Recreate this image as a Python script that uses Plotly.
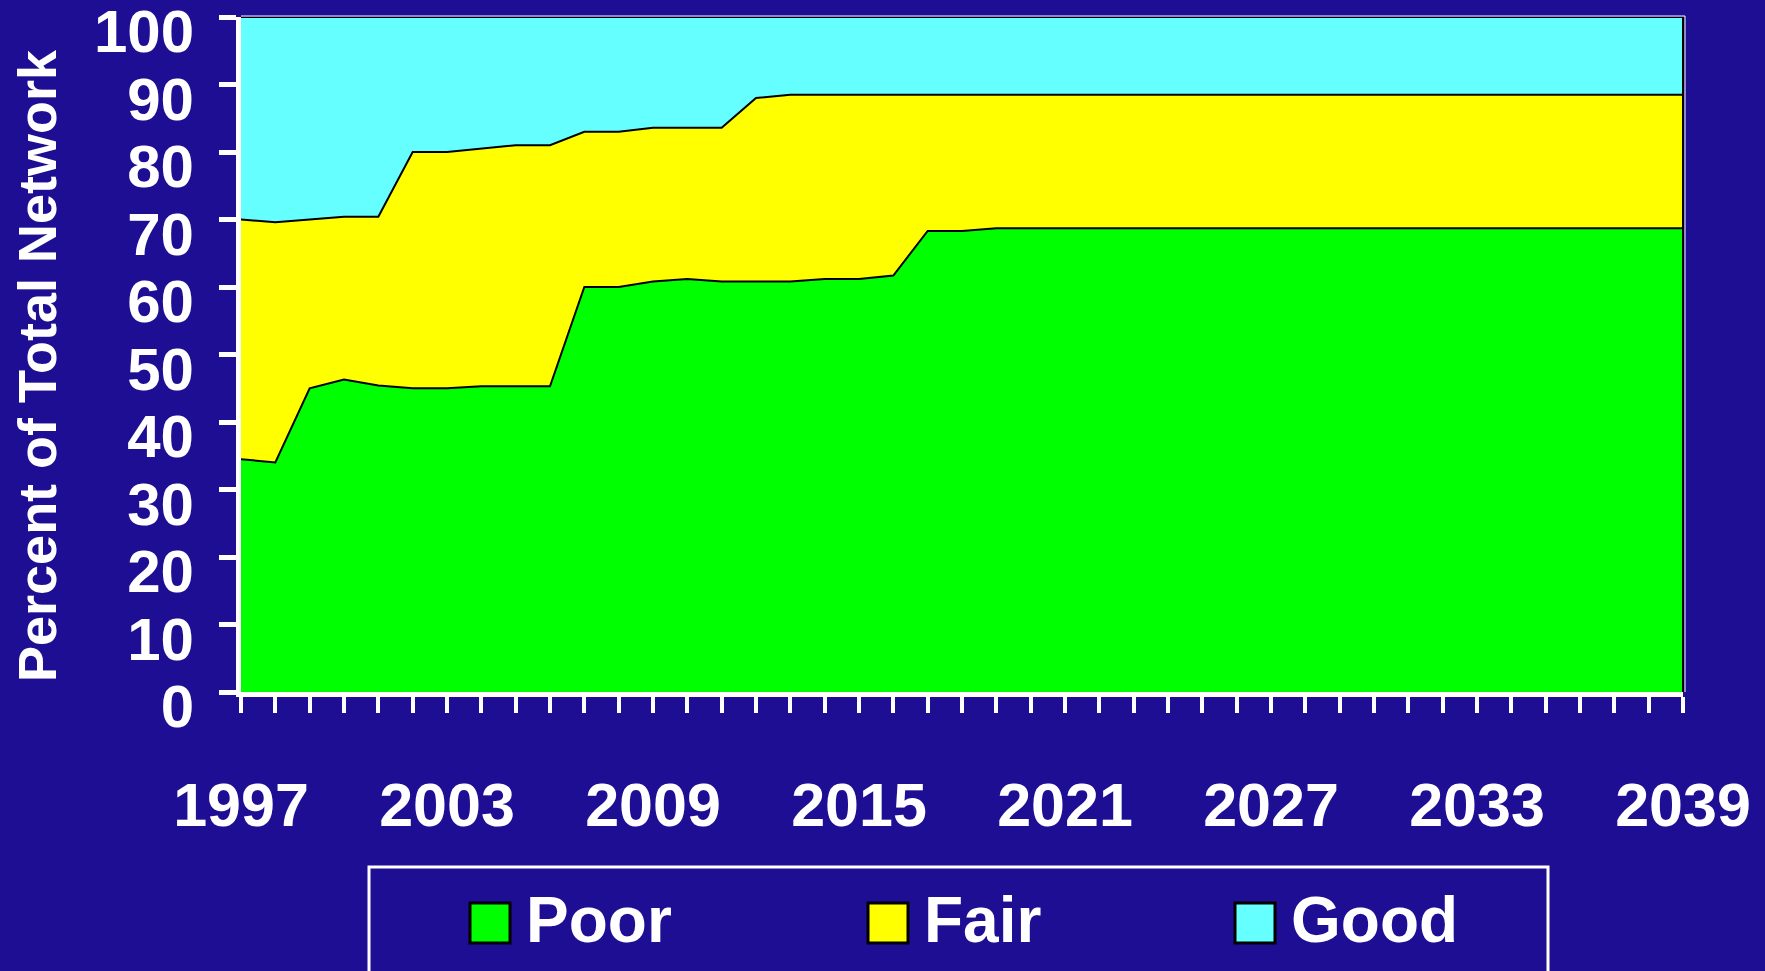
import plotly.graph_objects as go

# network condition, percent of total, 1997-2039
years = list(range(1997, 2040))

poor = [34.5, 34.0, 45.0, 46.3, 45.4, 45.0, 45.0, 45.3, 45.3, 45.3,
        60.0, 60.0, 60.8, 61.2, 60.8, 60.8, 60.8, 61.2, 61.2, 61.7,
        68.3, 68.3, 68.7, 68.7, 68.7, 68.7, 68.7, 68.7, 68.7, 68.7,
        68.7, 68.7, 68.7, 68.7, 68.7, 68.7, 68.7, 68.7, 68.7, 68.7,
        68.7, 68.7, 68.7]
fair = [35.5, 35.6, 25.0, 24.1, 25.0, 35.0, 35.0, 35.2, 35.7, 35.7,
        23.0, 23.0, 22.8, 22.4, 22.8, 27.2, 27.7, 27.3, 27.3, 26.8,
        20.2, 20.2, 19.8, 19.8, 19.8, 19.8, 19.8, 19.8, 19.8, 19.8,
        19.8, 19.8, 19.8, 19.8, 19.8, 19.8, 19.8, 19.8, 19.8, 19.8,
        19.8, 19.8, 19.8]
good = [30.0, 30.4, 30.0, 29.6, 29.6, 20.0, 20.0, 19.5, 19.0, 19.0,
        17.0, 17.0, 16.4, 16.4, 16.4, 12.0, 11.5, 11.5, 11.5, 11.5,
        11.5, 11.5, 11.5, 11.5, 11.5, 11.5, 11.5, 11.5, 11.5, 11.5,
        11.5, 11.5, 11.5, 11.5, 11.5, 11.5, 11.5, 11.5, 11.5, 11.5,
        11.5, 11.5, 11.5]

series_names = ["Poor", "Fair", "Good"]
x_tick_years = [1997, 2003, 2009, 2015, 2021, 2027, 2033, 2039]
y_ticks = [0, 10, 20, 30, 40, 50, 60, 70, 80, 90, 100]
y_title = "Percent of Total Network"

BG = "#1e0e94"
COLORS = ["#00ff00", "#ffff00", "#66ffff"]
FONT = "Liberation Sans, Arial, sans-serif"

W, H = 1765, 971
L, R, T, B = 241, 1683, 17, 692


def px(x):
    return (x - L) / (R - L)


def py(y):
    return (B - y) / (B - T)


fig = go.Figure()
for name, vals, col in zip(series_names, [poor, fair, good], COLORS):
    fig.add_trace(go.Scatter(x=years, y=vals, name=name, mode="lines",
                             stackgroup="one", fillcolor=col,
                             line=dict(color="black", width=2),
                             showlegend=False))

shapes = [
    # thin white frame on top / right, black edge of the areas on the right
    dict(type="line", xref="paper", yref="paper", x0=0, x1=px(R + 2),
         y0=py(T - 1), y1=py(T - 1), line=dict(color="white", width=1)),
    dict(type="line", xref="paper", yref="paper", x0=px(R + 2), x1=px(R + 2),
         y0=0, y1=py(T - 1), line=dict(color="white", width=1)),
    dict(type="line", xref="paper", yref="paper", x0=1, x1=1, y0=0, y1=1,
         line=dict(color="black", width=2)),
    # hand-made legend box (big square swatches like the original)
    dict(type="rect", xref="paper", yref="paper",
         x0=px(369), x1=px(1548), y0=py(867), y1=py(995),
         line=dict(color="white", width=3), fillcolor=BG),
]

# y axis title placed by hand so it sits where the original has it
annotations = [dict(text=y_title, xref="paper", yref="paper",
                    x=px(37), y=py(366), xanchor="center", yanchor="middle",
                    textangle=-90, showarrow=False,
                    font=dict(family=FONT, size=54, color="white",
                              weight="bold"))]
for name, col, sx in zip(series_names, COLORS, [470, 868, 1235]):
    shapes.append(dict(type="rect", xref="paper", yref="paper",
                       x0=px(sx), x1=px(sx + 40), y0=py(943), y1=py(903),
                       line=dict(color="black", width=3), fillcolor=col))
    annotations.append(dict(text=name, xref="paper", yref="paper",
                            x=px(sx + 54), y=py(920), xanchor="left",
                            yanchor="middle", showarrow=False,
                            font=dict(family=FONT, size=64, color="white",
                                      weight="bold")))

fig.update_layout(
    width=W, height=H,
    template="none",
    paper_bgcolor=BG, plot_bgcolor=BG,
    margin=dict(l=L, r=W - R, t=T, b=H - B),
    shapes=shapes, annotations=annotations,
    showlegend=False,
)

fig.update_xaxes(range=[1997, 2039], tickmode="array",
                 tickvals=x_tick_years, ticktext=[str(v) for v in x_tick_years],
                 ticks="outside", ticklen=16, tickwidth=4, tickcolor="white",
                 minor=dict(dtick=1, ticks="outside", ticklen=16, tickwidth=4,
                            tickcolor="white", showgrid=False),
                 showline=True, linecolor="white", linewidth=5,
                 showgrid=False, zeroline=False, automargin=False,
                 ticklabelstandoff=40, ticklabeloverflow="allow",
                 tickfont=dict(family=FONT, size=61, color="white",
                               weight="bold"))

fig.update_yaxes(range=[0, 100], tickmode="array", tickvals=y_ticks,
                 ticks="outside", ticklen=17, tickwidth=5, tickcolor="white",
                 showline=True, linecolor="white", linewidth=5,
                 showgrid=False, zeroline=False, automargin=False,
                 ticklabelstandoff=13, ticklabelshift=14,
                 ticklabeloverflow="allow",
                 tickfont=dict(family=FONT, size=60, color="white",
                               weight="bold"))

fig.write_html("out.html", config={"displayModeBar": False},
               post_script="document.body.style.margin='0';")
